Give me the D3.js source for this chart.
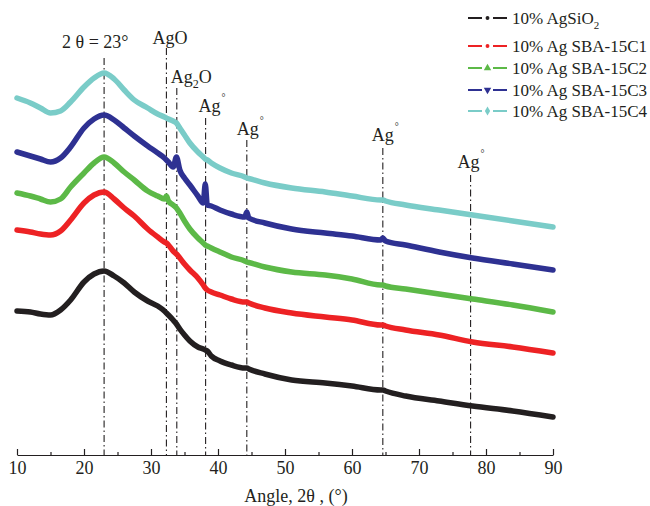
<!DOCTYPE html>
<html>
<head>
<meta charset="utf-8">
<script src="https://cdn.jsdelivr.net/npm/d3@7"></script>
<style>
body { margin: 0; background: #fff; }
svg text { font-family: "Liberation Serif", "Times New Roman", serif; fill: #231f20; }
</style>
</head>
<body>
<svg id="chart" width="650" height="506"></svg>
<script>
// diffraction angle, 2θ (°)
var angles = [10, 12, 13.5, 15, 16.5, 18, 20, 21.5, 23, 24.5, 26, 27.5, 29.5, 31, 32, 32.3, 32.6, 33.3, 33.8, 34.3, 35, 35.8, 37, 37.8, 38.1, 38.4, 39, 40.3, 42, 44, 44.3, 44.6, 47, 51, 56, 60, 64.3, 64.6, 65, 68, 73, 78, 84, 90];

// intensity, a.u. (offset curves)
var agSiO2 = [1440, 1430, 1410, 1400, 1450, 1550, 1730, 1810, 1840, 1790, 1720, 1630, 1540, 1490, 1440, 1420, 1400, 1350, 1310, 1260, 1200, 1140, 1080, 1060, 1050, 1040, 990, 940, 900, 870, 870, 860, 810, 750, 720, 690, 650, 650, 640, 590, 540, 490, 440, 380];
var sbaC1 = [2250, 2230, 2210, 2200, 2240, 2350, 2520, 2600, 2630, 2560, 2470, 2390, 2260, 2180, 2130, 2120, 2100, 2040, 2010, 1970, 1910, 1850, 1770, 1700, 1670, 1650, 1630, 1600, 1560, 1530, 1530, 1520, 1470, 1420, 1380, 1350, 1300, 1300, 1290, 1250, 1200, 1130, 1080, 1020];
var sbaC2 = [2620, 2590, 2560, 2530, 2560, 2680, 2820, 2920, 2980, 2920, 2830, 2750, 2640, 2590, 2560, 2590, 2540, 2500, 2470, 2420, 2340, 2260, 2170, 2120, 2100, 2090, 2070, 2030, 1980, 1940, 1930, 1925, 1880, 1830, 1800, 1760, 1700, 1700, 1690, 1660, 1610, 1560, 1500, 1430];
var sbaC3 = [3030, 2990, 2960, 2930, 2970, 3080, 3270, 3360, 3400, 3350, 3270, 3190, 3090, 3020, 2970, 2950, 2930, 2880, 2980, 2850, 2770, 2700, 2590, 2520, 2710, 2500, 2490, 2450, 2410, 2380, 2430, 2370, 2320, 2260, 2220, 2190, 2150, 2170, 2140, 2100, 2030, 1970, 1910, 1850];
var sbaC4 = [3570, 3520, 3470, 3420, 3440, 3530, 3680, 3770, 3820, 3760, 3650, 3550, 3470, 3410, 3380, 3370, 3360, 3340, 3320, 3270, 3200, 3120, 3030, 2980, 2960, 2950, 2920, 2870, 2820, 2780, 2770, 2765, 2720, 2670, 2630, 2590, 2550, 2550, 2540, 2500, 2450, 2400, 2340, 2280];

var seriesNames = ["10% AgSiO2", "10% Ag SBA-15C1", "10% Ag SBA-15C2", "10% Ag SBA-15C3", "10% Ag SBA-15C4"];
var seriesValues = [agSiO2, sbaC1, sbaC2, sbaC3, sbaC4];
var seriesColors = ["#231f20", "#ed2224", "#5cb947", "#2e3192", "#7accc8"];
var seriesMarkers = [d3.symbolCircle, d3.symbolCircle, d3.symbolTriangle, d3.symbolTriangle, d3.symbolDiamond];

// reference peak positions and their labels
var peakAngles = [23, 32.3, 33.85, 38.15, 44.3, 64.6, 77.7];
var peakLabels = ["2 θ = 23°", "AgO", "Ag2O", "Ag°", "Ag°", "Ag°", "Ag°"];

var xTicks = [10, 20, 30, 40, 50, 60, 70, 80, 90];
var xMinorTicks = [15, 25, 35, 45, 55, 65, 75, 85];

var margin = {top: 20, right: 97, bottom: 51, left: 17};
var width = 650 - margin.left - margin.right,
    height = 506 - margin.top - margin.bottom;

var svg = d3.select("#chart")
    .append("g")
    .attr("transform", "translate(" + margin.left + "," + margin.top + ")");

var x = d3.scaleLinear().domain([10, 90]).range([0, width]);
var y = d3.scaleLinear().domain([0, 4350]).range([height, 0]);

// peak marker lines (dash-dot), drawn under curves
var lineTops = [38, 28, 68, 98, 120, 128, 155];
svg.selectAll(".peak_line")
    .data(peakAngles)
    .enter()
    .append("line")
    .attr("class", "peak_line")
    .attr("x1", function (d) { return x(d); })
    .attr("x2", function (d) { return x(d); })
    .attr("y1", function (d, i) { return lineTops[i]; })
    .attr("y2", height)
    .attr("stroke", "#231f20")
    .attr("stroke-width", 1.1)
    .attr("stroke-dasharray", "7,3,1.5,3");

var line = d3.line()
    .x(function (d, i) { return x(angles[i]); })
    .y(function (d) { return y(d); })
    .curve(d3.curveMonotoneX);

svg.selectAll(".curve")
    .data(seriesValues)
    .enter()
    .append("path")
    .attr("class", "curve")
    .attr("d", line)
    .attr("fill", "none")
    .attr("stroke", function (d, i) { return seriesColors[i]; })
    .attr("stroke-width", 5.5)
    .attr("stroke-linejoin", "round")
    .attr("stroke-linecap", "round");

// x axis, ticks pointing inwards
var xAxis = svg.append("g")
    .attr("class", "x_axis")
    .attr("transform", "translate(0," + height + ")")
    .call(d3.axisBottom(x).tickValues(xTicks).tickSizeInner(-6).tickSizeOuter(0).tickPadding(6));

xAxis.select(".domain").attr("stroke", "#231f20").attr("stroke-width", 1.2);
xAxis.selectAll("line").attr("stroke", "#231f20").attr("stroke-width", 1.2);
xAxis.selectAll("text").style("font-size", "18px").style("fill", "#231f20")
    .style("font-family", "'Liberation Serif', serif");

var xMinor = svg.append("g")
    .attr("transform", "translate(0," + height + ")")
    .call(d3.axisBottom(x).tickValues(xMinorTicks).tickSize(-3).tickFormat(""));
xMinor.select(".domain").remove();
xMinor.selectAll("line").attr("stroke", "#231f20").attr("stroke-width", 1.2);

svg.append("text")
    .attr("x", width / 2 + 11)
    .attr("y", height + 47)
    .style("text-anchor", "middle")
    .style("font-size", "18px")
    .text("Angle, 2θ , (°)");

// peak labels
var labelPos = [[-42, 28], [-14, 24], [-6, 63], [-7, 92], [-10, 115], [-11, 121], [-13, 148]];
peakLabels.forEach(function (lbl, i) {
    var t = svg.append("text")
        .attr("x", x(peakAngles[i]) + labelPos[i][0])
        .attr("y", labelPos[i][1])
        .style("font-size", "18px");
    if (lbl == "Ag2O") {
        t.append("tspan").text("Ag");
        t.append("tspan").attr("dy", 5).style("font-size", "12px").text("2");
        t.append("tspan").attr("dy", -5).text("O");
    } else if (lbl == "Ag°") {
        t.append("tspan").text("Ag");
        t.append("tspan").attr("dy", -11).attr("dx", 1).style("font-size", "10px").text("°");
    } else {
        t.text(lbl);
    }
});

// legend
var legendY = [-2, 26, 48, 70, 91];
var legend = svg.selectAll(".legend")
    .data(seriesNames)
    .enter()
    .append("g")
    .attr("class", "legend")
    .attr("transform", function (d, i) { return "translate(" + (width - 85) + "," + legendY[i] + ")"; });

legend.append("line")
    .attr("x1", 0).attr("x2", 14).attr("y1", 0).attr("y2", 0)
    .attr("stroke", function (d, i) { return seriesColors[i]; })
    .attr("stroke-width", 2);
legend.append("line")
    .attr("x1", 25).attr("x2", 39).attr("y1", 0).attr("y2", 0)
    .attr("stroke", function (d, i) { return seriesColors[i]; })
    .attr("stroke-width", 2);
legend.append("path")
    .attr("transform", function (d, i) {
        return "translate(19.5,0)" + (i == 3 ? " rotate(180)" : "");
    })
    .attr("d", function (d, i) {
        return d3.symbol().type(seriesMarkers[i]).size(i < 2 ? 12 : 24)();
    })
    .attr("fill", function (d, i) { return seriesColors[i]; });

legend.append("text")
    .attr("x", 44)
    .attr("y", 5.5)
    .style("font-size", "17px")
    .each(function (d) {
        var t = d3.select(this);
        if (d == "10% AgSiO2") {
            t.append("tspan").text("10% AgSiO");
            t.append("tspan").attr("dy", 5).style("font-size", "11px").text("2");
        } else {
            t.text(d);
        }
    });
</script>
</body>
</html>
